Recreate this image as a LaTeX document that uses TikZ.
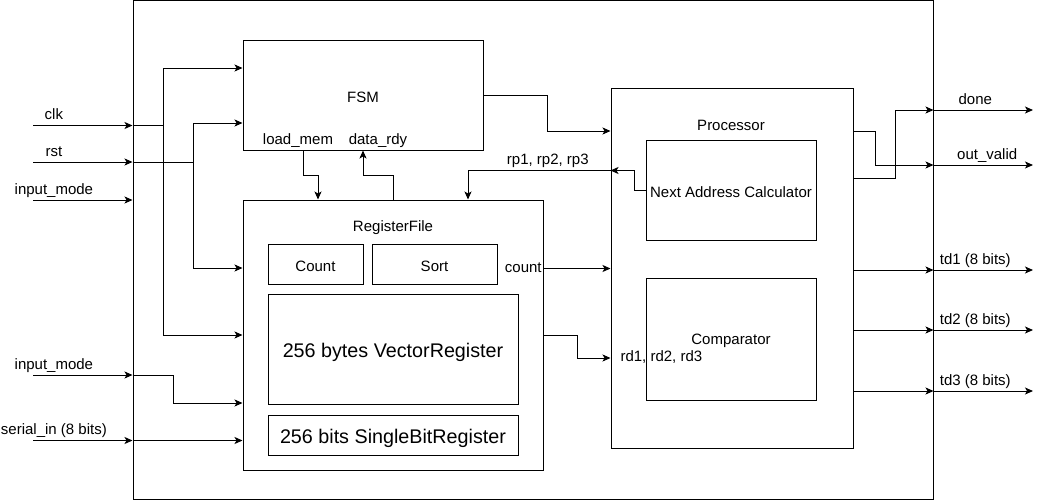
\documentclass[tikz,border=0pt]{standalone}
\usepackage{fontspec}
\setmainfont{Liberation Sans}
\usetikzlibrary{arrows.meta}
\usetikzlibrary{fit}

\begin{document}
\begin{tikzpicture} [x=.75pt, y=-.75pt, line width=.75pt,
  >={Stealth[length=6pt, width=5.25pt, inset=1.5pt]},
  font=\fontsize{11.25}{13}\selectfont,
  every label/.style={yshift=-1.5pt},
  blk/.style={draw, inner sep=0pt, fit={#1}},
  big/.style={font=\fontsize{14.8}{17}\selectfont, yshift=-1.2pt},
  sig/.style={->},
  tag/.style={above, inner sep=1.5pt, text height=8pt, text depth=2.5pt}]
\useasboundingbox (0,0) rectangle (1043,501);
% blocks
\node[blk={(133,.5) (933,499)}] (top) {};
\node[blk={(243,40) (483,150)}, label=center:FSM] (fsm) {};
\node[blk={(243,200) (543,470)}] (reg) {};
\node[blk={(268,244) (363,284)}, label=center:Count] (cnt) {};
\node[blk={(372,244) (497,284)}, label=center:Sort] (sort) {};
\node[blk={(268,294) (518,404)}, label={[big]center:256 bytes VectorRegister}] (vreg) {};
\node[blk={(268,415) (518,455)}, label={[big]center:256 bits SingleBitRegister}] (sreg) {};
\node[blk={(611,88) (853,448)}] (proc) {};
\node[blk={(646,140) (816,240)}, label=center:Next Address Calculator] (nac) {};
\node[blk={(646,278) (816,400)}, label=center:Comparator] (cmp) {};
\node (reglbl) at (393,228) {RegisterFile};
\node (proclbl) at (731,125) {Processor};
\node (ldmem) at (298,141) {load\_mem};
\node (drdy) at (378,141) {data\_rdy};
\node[anchor=east, inner sep=1pt] (cntlbl) at (reg.east |- 0,268) {count};
\node[anchor=west, inner sep=0pt] (rdlbl) at (620,357) {rd1, rd2, rd3};
% inputs
\coordinate (clk) at (33,125.5);
\coordinate (rst) at (33,162);
\coordinate (mode) at (33,200);
\coordinate (mode2) at (33,375);
\coordinate (serin) at (33,440.5);
\coordinate (clkbus) at (163,0);
\coordinate (rstbus) at (193,0);
\draw[sig] (clk) -- (clk -| top.west) node[pos=.21, tag] {clk};
\draw[sig] (rst) -- (rst -| top.west) node[pos=.21, tag] {rst};
\draw[sig] (mode) -- (mode -| top.west) node[pos=.21, tag] {input\_mode};
\draw[sig] (mode2) -- (mode2 -| top.west) node[pos=.21, tag] {input\_mode};
\draw[sig] (serin) -- (serin -| top.west) node[pos=.21, tag] {serial\_in (8 bits)};
\draw (clk -| top.west) -- (clk -| clkbus);
\draw[sig] (clk -| clkbus) |- (fsm.west |- 0,68);
\draw[sig] (clk -| clkbus) |- (reg.west |- 0,335);
\draw (rst -| top.west) -- (rst -| rstbus);
\draw[sig] (rst -| rstbus) |- (fsm.west |- 0,123);
\draw[sig] (rst -| rstbus) |- (reg.west |- 0,268);
\draw[sig] (mode2 -| top.west) -| (173,403) -- (reg.west |- 0,403);
\draw[sig] (serin -| top.west) -- (serin -| reg.west);
% fsm and register file
\draw[sig] (fsm.south -| 303,0) |- (318,175) -- (reg.north -| 318,0);
\draw[sig] (reg.north -| 393,0) |- (363,175) -- (fsm.south -| 363,0);
\draw[sig] (fsm.east |- 0,95.5) -| (547,131) -- (proc.west |- 0,131);
\draw[sig] (nac.west) -| (634,170.5) -- (proc.west |- 0,170.5);
\draw[sig] (proc.west |- 0,170.5) -| (reg.north -| 468,0) node[pos=.22, tag] {rp1, rp2, rp3};
\draw[sig] (reg.east |- 0,268.5) -- (proc.west |- 0,268.5);
\draw[sig] (reg.east |- 0,335.5) -| (577,358) -- (proc.west |- 0,358);
% outputs
\coordinate (done) at (1033,110);
\coordinate (oval) at (1033,165);
\coordinate (td1) at (1033,270);
\coordinate (td2) at (1033,330);
\coordinate (td3) at (1033,391);
\draw[sig] (proc.east |- 0,131.5) -| (875.5,165) -- (top.east |- oval);
\draw[sig] (proc.east |- 0,178) -| (895,110) -- (top.east |- done);
\foreach \t in {td1,td2,td3} {
 \draw[sig] (proc.east |- \t) -- (top.east |- \t);
}
\draw[sig] (top.east |- done) -- (done) node[pos=.42, tag] {done};
\draw[sig] (top.east |- oval) -- (oval) node[pos=.54, tag] {out\_valid};
\draw[sig] (top.east |- td1) -- (td1) node[pos=.42, tag] {td1 (8 bits)};
\draw[sig] (top.east |- td2) -- (td2) node[pos=.42, tag] {td2 (8 bits)};
\draw[sig] (top.east |- td3) -- (td3) node[pos=.42, tag] {td3 (8 bits)};
\end{tikzpicture}
\end{document}
